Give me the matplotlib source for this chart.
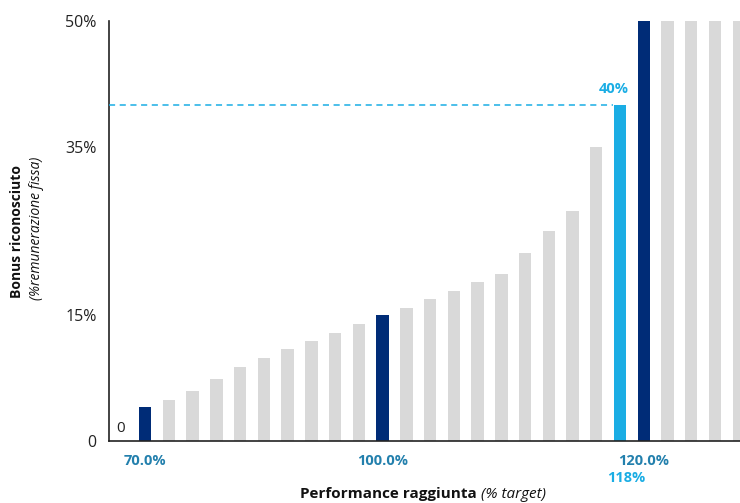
import matplotlib.pyplot as plt
from matplotlib.transforms import blended_transform_factory

plt.rcParams['font.family'] = ['Open Sans', 'DejaVu Sans']

# bonus (% of fixed pay) for each performance step, left to right
bonus = [4, 4.9, 5.9, 7.4, 8.8, 9.9, 11, 11.9, 12.9, 13.9, 15,
         15.8, 16.9, 17.9, 18.9, 19.9, 22.4, 25, 27.4, 35, 40,
         50, 50, 50, 50, 50]
# labelled steps on the x axis (index -> text)
x_labels = {0: '70.0%', 10: '100.0%', 21: '120.0%'}
highlight_navy = [0, 10, 21]
highlight_light = 20
light_label = '118%'
light_value = '40%'
y_ticks = [0, 15, 35, 50]
y_ticklabels = ['0', '15%', '35%', '50%']

navy = '#002C77'
light = '#1AADE4'
gray = '#D9D9D9'
teal = '#2380AD'

colors = [gray] * len(bonus)
for i in highlight_navy:
    colors[i] = navy
colors[highlight_light] = light

fig = plt.figure(figsize=(7.4, 5.03), dpi=100)
ax = fig.add_axes([109 / 740, 62 / 503, 631 / 740, 420 / 503])

x = list(range(len(bonus)))
ax.bar(x, bonus, width=0.52, color=colors, zorder=2)

ax.set_xlim(-1.52, 25.05)
ax.set_ylim(0, 50)

ax.hlines(bonus[highlight_light], -1.52, highlight_light - 0.3,
          colors=light, linestyles=(0, (4, 3)), linewidth=1.1, zorder=3)
ax.text(highlight_light - 0.25, bonus[highlight_light] + 1.1, light_value,
        color=light, fontsize=10.5, fontweight='bold', ha='center', va='bottom')
ax.text(-1.05, 0.6, '0', fontsize=11, color='#222222', ha='center', va='bottom')

for s in ['top', 'right']:
    ax.spines[s].set_visible(False)
for s in ['left', 'bottom']:
    ax.spines[s].set_color('#222222')
    ax.spines[s].set_linewidth(1.2)

ax.set_yticks(y_ticks)
ax.set_yticklabels(y_ticklabels, fontsize=11.5, color='#222222')
ax.tick_params(axis='y', length=0, pad=9)
ax.set_xticks([])

trans = blended_transform_factory(ax.transData, ax.transAxes)
for i, lab in x_labels.items():
    ax.text(i, -0.048, lab, transform=trans, ha='center', va='center',
            fontsize=10.5, fontweight='bold', color=teal)
ax.text(highlight_light + 0.25, -0.088, light_label, transform=trans,
        ha='center', va='center', fontsize=10.5, fontweight='bold', color=light)

fig.text(477 / 740, 9 / 503, 'Performance raggiunta', ha='right', va='center',
         fontsize=11, fontweight='bold', color='#111111')
fig.text(481 / 740, 9 / 503, '(% target)', ha='left', va='center',
         fontsize=11, fontstyle='italic', color='#111111')

fig.text(17 / 740, 1 - 231 / 503, 'Bonus riconosciuto', rotation=90,
         ha='center', va='center', fontsize=10, fontweight='bold', color='#111111')
fig.text(37 / 740, 1 - 228 / 503, '(%remunerazione fissa)', rotation=90,
         ha='center', va='center', fontsize=10, fontstyle='italic', color='#111111')

fig.savefig('out.png', dpi=100)
